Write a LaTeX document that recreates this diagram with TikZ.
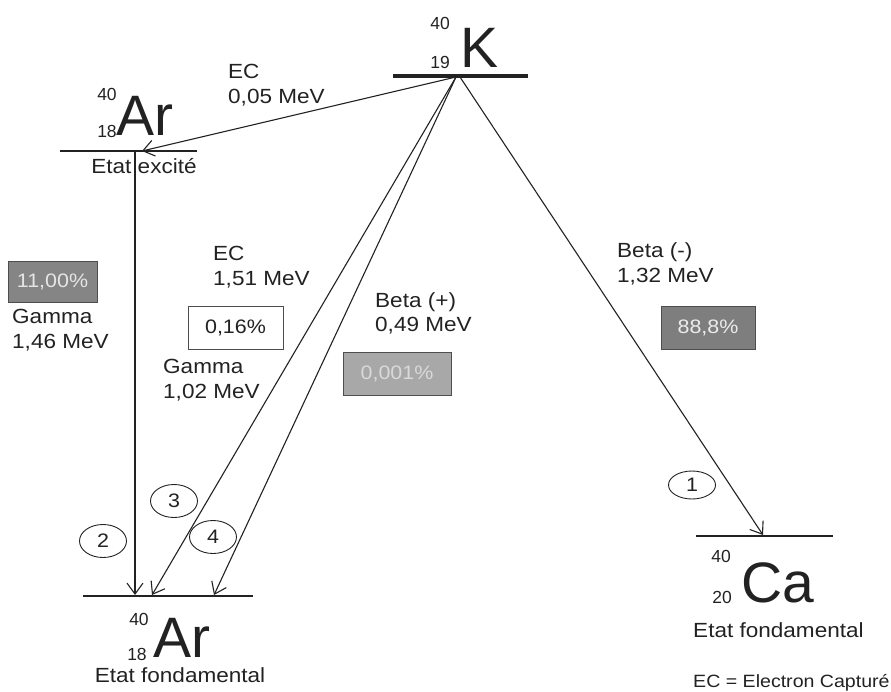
\documentclass[tikz,border=0pt]{standalone}
\usepackage{fontspec}
\setmainfont[FakeStretch=1.1]{Liberation Sans}
\newfontfamily\bigfont{Liberation Sans}
\usetikzlibrary{arrows.meta,shapes.geometric}
\definecolor{ink}{HTML}{222222}
\definecolor{boxA}{HTML}{858585}
\definecolor{boxB}{HTML}{A8A8A8}
\begin{document}
\begin{tikzpicture}[x=1pt,y=-1pt,
  every node/.style={text=ink},
  lbl/.style={anchor=base west, inner sep=0pt, font=\fontsize{20.5}{24}\selectfont},
  lblc/.style={anchor=base, inner sep=0pt, font=\fontsize{20.5}{24}\selectfont},
  legend/.style={anchor=base west, inner sep=0pt, font=\fontsize{17.8}{20}\selectfont},
  sym/.style={anchor=base, inner sep=0pt, font=\bigfont\fontsize{57}{60}\selectfont},
  iso/.style={anchor=base, inner sep=0pt, font=\bigfont\fontsize{17.5}{20}\selectfont},
  pbox/.style={draw=ink!80, line width=0.9pt, inner sep=0pt, font=\fontsize{19.5}{22}\selectfont},
  circ/.style={draw=ink, ellipse, line width=0.9pt, inner sep=0pt, minimum width=47pt, minimum height=33pt, font=\fontsize{19.5}{22}\selectfont},
  level/.style={draw=ink, line width=2pt},
  arr/.style={draw=ink, line width=1.1pt, -{Straight Barb[length=11pt,width=16pt,line width=1.1pt]}}
]
\useasboundingbox (0,0) rectangle (891,691);

% ---------- levels ----------
\draw[level, line width=4.5pt] (393,76) coordinate (Kl) -- (528,76) coordinate (Kr);
\draw[level] (60,151) coordinate (ASl) -- (197,151) coordinate (ASr);
\draw[level] (83,596) coordinate (AGl) -- (253,596) coordinate (AGr);
\draw[level] (696,536) coordinate (CAl) -- (833,536) coordinate (CAr);

\coordinate (K) at (456,77);
\coordinate (K2) at (460,77);
\coordinate (ASin) at (142,151);
\coordinate (ASout) at (135,151);
\coordinate (AG2) at (135,595);
\coordinate (AG3) at (152,595);
\coordinate (AG4) at (214,595);
\coordinate (CA1) at (763,535);

% ---------- nuclei ----------
\node[sym] (Ksym) at (480,67) {K};
\node[iso] (Ka) at (440,29) {40};
\node[iso] (Kz) at (440,68) {19};

\node[sym] (ASsym) at (145,135) {Ar};
\node[iso] (ASa) at (107,100) {40};
\node[iso] (ASz) at (107,137) {18};
\node[lblc] (ASlab) at (144,173) {Etat excité};

\node[sym] (AGsym) at (182,657) {Ar};
\node[iso] (AGa) at (139,625) {40};
\node[iso] (AGz) at (137,660) {18};
\node[lblc] (AGlab) at (180,682) {Etat fondamental};

\node[sym] (CAsym) at (778,602) {Ca};
\node[iso] (CAa) at (721,562) {40};
\node[iso] (CAz) at (722,603) {20};
\node[lbl] (CAlab) at (693,637) {Etat fondamental};
\node[legend] (leg) at (693,687) {EC = Electron Capturé};

% ---------- transitions ----------
\draw[arr] (K) -- (ASin);
\draw[arr] (ASout) -- (AG2);
\draw[arr] (K) -- (AG3);
\draw[arr] (K) -- (AG4);
\draw[arr] (K2) -- (CA1);

% ---------- labels ----------
\node[lbl] (ec1a) at (228,78) {EC};
\node[lbl] (ec1b) at (228,103) {0,05 MeV};

\node[lbl] (ec2a) at (213,260) {EC};
\node[lbl] (ec2b) at (213,285) {1,51 MeV};

\node[lbl] (g1a) at (12,323) {Gamma};
\node[lbl] (g1b) at (12,348) {1,46 MeV};

\node[lbl] (g2a) at (163,373) {Gamma};
\node[lbl] (g2b) at (163,398) {1,02 MeV};

\node[lbl] (bpa) at (375,307) {Beta (+)};
\node[lbl] (bpb) at (375,331) {0,49 MeV};

\node[lbl] (bma) at (617,257) {Beta (-)};
\node[lbl] (bmb) at (617,282) {1,32 MeV};

% ---------- percentages ----------
\node[pbox, fill=boxA, text=white!90!black, minimum width=89pt, minimum height=41pt] (p11) at (52.5,281.5) {11,00\%};
\node[pbox, fill=white, minimum width=95pt, minimum height=43pt] (p016) at (235.5,327.5) {0,16\%};
\node[pbox, fill=boxB, text=white!85!black, minimum width=108pt, minimum height=43pt] (p0001) at (397,373.5) {0,001\%};
\node[pbox, fill=boxA!95!black, text=white!92!black, minimum width=94pt, minimum height=43pt] (p888) at (708,327.5) {88,8\%};

% ---------- circled numbers ----------
\node[circ, minimum height=28pt] (c1) at (692,485) {1};
\node[circ] (c2) at (103,541) {2};
\node[circ] (c3) at (174,501) {3};
\node[circ] (c4) at (213,537) {4};
\end{tikzpicture}
\end{document}
